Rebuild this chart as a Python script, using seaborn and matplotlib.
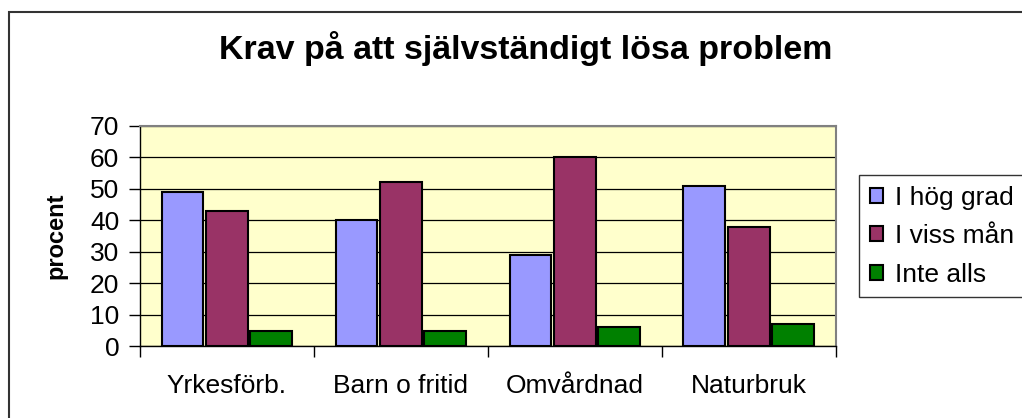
import pandas as pd
import matplotlib.pyplot as plt
import seaborn as sns
from matplotlib.patches import Rectangle

kategorier = ["Yrkesförb.", "Barn o fritid", "Omvårdnad", "Naturbruk"]
svar = ["I hög grad", "I viss mån", "Inte alls"]
hog_grad = [49, 40, 29, 51]
viss_man = [43, 52, 60, 38]
inte_alls = [5, 5, 6, 7]
farger = ["#9999FF", "#993366", "#008000"]

df = pd.DataFrame({
    "kategori": kategorier * 3,
    "svar": [s for s in svar for _ in kategorier],
    "procent": hog_grad + viss_man + inte_alls,
})

sns.set_style("white")
plt.rcParams['font.family'] = ['Liberation Sans', 'DejaVu Sans']
plt.rcParams['text.color'] = 'black'
plt.rcParams['xtick.color'] = 'black'
plt.rcParams['ytick.color'] = 'black'
plt.rcParams['axes.labelcolor'] = 'black'

fig = plt.figure(figsize=(10.22, 4.18), dpi=100)
ax = fig.add_axes([140 / 1022, 1 - 346.3 / 418, 695.7 / 1022, 220.6 / 418])
ax.set_facecolor("#FFFFCC")

sns.barplot(data=df, x="kategori", y="procent", hue="svar", hue_order=svar,
            palette=farger, saturation=1, width=0.766, gap=0.06,
            edgecolor="black", linewidth=1.5, ax=ax, zorder=3)

ax.set_ylim(0, 70)
ax.set_xlim(-0.5, 3.5)
ax.set_yticks(range(0, 71, 10))
ax.yaxis.grid(True, color="black", linewidth=0.9, zorder=0)
ax.set_axisbelow(True)
ax.tick_params(axis="y", direction="out", length=8, width=1,
               labelsize=19, pad=7, left=True)
ax.set_xticks([-0.5, 0.5, 1.5, 2.5, 3.5], minor=True)
ax.tick_params(axis="x", which="minor", direction="out", length=8, width=1,
               bottom=True)
ax.tick_params(axis="x", which="major", length=0, labelsize=19, pad=20)
ax.set_xlabel("")
ax.set_ylabel("procent", fontsize=17, fontweight="bold", labelpad=16)

for side in ["top", "right"]:
    ax.spines[side].set_color("#808080")
    ax.spines[side].set_linewidth(1.5)
for side in ["left", "bottom"]:
    ax.spines[side].set_color("black")
    ax.spines[side].set_linewidth(1)

ax.get_legend().remove()
handles, labels = ax.get_legend_handles_labels()
leg = fig.legend(handles, labels, loc="upper left",
                 bbox_to_anchor=(859 / 1022, 1 - 175 / 418), borderaxespad=0,
                 fontsize=19, frameon=True, fancybox=False,
                 handlelength=0.5, handleheight=0.5, handletextpad=0.45,
                 labelspacing=0.55, borderpad=0.4)
leg.get_frame().set_edgecolor("black")
leg.get_frame().set_linewidth(1)

fig.text(526 / 1022, 1 - 48 / 418, "Krav på att självständigt lösa problem",
         ha="center", va="center", fontsize=24.5, fontweight="bold")

fig.patches.append(Rectangle((9 / 1022, -0.2), 1.2, 1.2 - 12 / 418,
                             transform=fig.transFigure, fill=False,
                             edgecolor="#333333", linewidth=1.5))

fig.savefig("out.png", dpi=100)
